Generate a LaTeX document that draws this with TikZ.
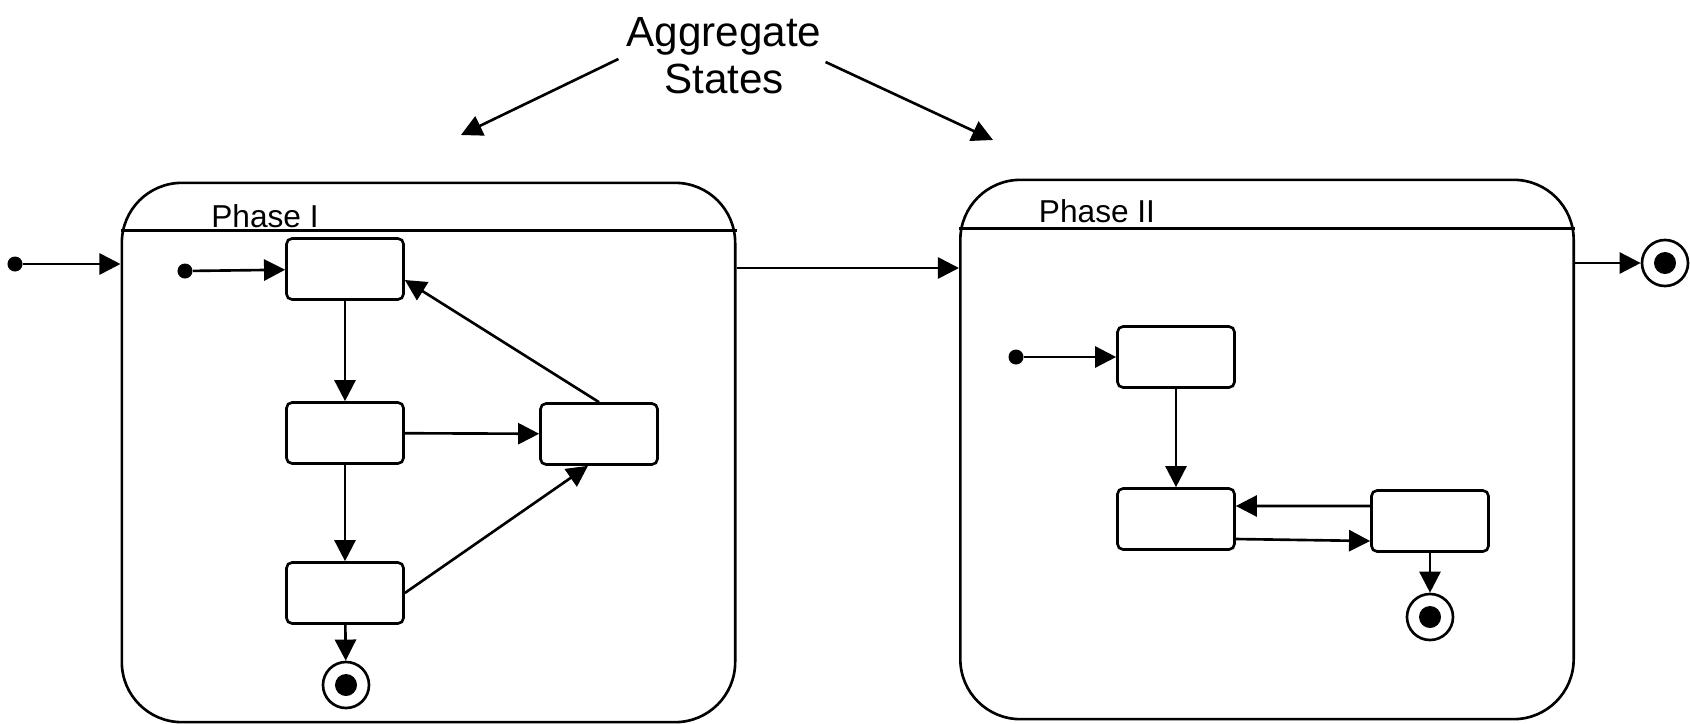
\documentclass[tikz,border=0pt]{standalone}
\usepackage{fontspec}
\setmainfont{Liberation Sans}
\usepackage{tikz}
\usetikzlibrary{shapes.geometric, arrows.meta}
\tikzstyle{phase} = [rectangle, rounded corners=0.6cm, minimum width=6.13cm, minimum height=5.39cm, draw=black, line width=0.75pt]
\tikzstyle{state} = [rectangle, rounded corners=1.6pt, minimum width=1.17cm, minimum height=0.61cm, draw=black, line width=0.75pt]
\tikzstyle{phasename} = [font=\fontsize{9}{11}\selectfont, inner sep=0pt]
\tikzstyle{startdot} = [circle, fill=black, inner sep=0pt, minimum size=0.15cm]
\tikzstyle{endstate} = [circle, draw=black, line width=0.75pt, inner sep=0pt, minimum size=0.46cm, path picture={\fill[black] (path picture bounding box.center) circle (0.11cm);}]
\tikzstyle{arrow} = [line width=0.75pt, -{Triangle[length=6pt, width=6pt]}]

\begin{document}
\begin{tikzpicture}[x=0.01cm, y=-0.01cm]
   \useasboundingbox (0,0) rectangle (1690,724);
   % aggregate states
   \node (agg) [align=center, inner sep=1pt, font=\fontsize{12}{13.4}\selectfont] at (724,56) {Aggregate\\States};
   \coordinate (aggI) at (461,135);
   \coordinate (aggII) at (993,140);
   \draw [arrow] ([xshift=-0.04cm, yshift=-0.03cm]agg.west) -- (aggI);
   \draw [arrow] ([yshift=-0.06cm]agg.east) -- (aggII);
   % phase I
   \node (phaseI) [phase] at (428.5,452.5) {};
   \draw [line width=0.75pt] ([yshift=-0.49cm]phaseI.north west) -- ([yshift=-0.49cm]phaseI.north east);
   \node (nameI) [phasename] at (265,216) {Phase I};
   \node (startI) [startdot] at (185,271) {};
   \node (a) [state] at (345,269) {};
   \node (b) [state] at (345,433) {};
   \node (c) [state] at (599,434) {};
   \node (d) [state] at (345,593) {};
   \node (endI) [endstate] at (346,685) {};
   \draw [arrow] (startI) -- (a);
   \draw [arrow] (a) -- (b);
   \draw [arrow] (b) -- (c);
   \draw [arrow] (c.north) -- ([yshift=-0.11cm]a.east);
   \draw [arrow] (b) -- (d);
   \draw [arrow] (d.east) -- ([xshift=-0.11cm]c.south);
   \draw [arrow] (d) -- (endI);
   % phase II
   \node (phaseII) [phase] at (1267,449.5) {};
   \draw [line width=0.75pt] ([yshift=-0.5cm]phaseII.north west) -- ([yshift=-0.5cm]phaseII.north east);
   \node (nameII) [phasename] at (1097,211) {Phase II};
   \node (startII) [startdot] at (1016,357) {};
   \node (e) [state] at (1176,357) {};
   \node (f) [state] at (1176,519) {};
   \node (g) [state] at (1430,521) {};
   \node (endII) [endstate] at (1430,617) {};
   \draw [arrow] (startII) -- (e);
   \draw [arrow] (e) -- (f);
   \draw [arrow] ([yshift=0.15cm]g.west) -- ([yshift=0.13cm]f.east);
   \draw [arrow] ([yshift=-0.2cm]f.east) -- ([yshift=-0.2cm]g.west);
   \draw [arrow] (g) -- (endII);
   % outer transitions
   \node (start0) [startdot] at (15,264) {};
   \node (end0) [endstate] at (1665,263) {};
   \draw [arrow] (start0) -- (start0 -| phaseI.west);
   \draw [arrow] (phaseI.east |- 0,268) -- (phaseII.west |- 0,268);
   \draw [arrow] (phaseII.east |- end0) -- (end0);
\end{tikzpicture}
\end{document}
